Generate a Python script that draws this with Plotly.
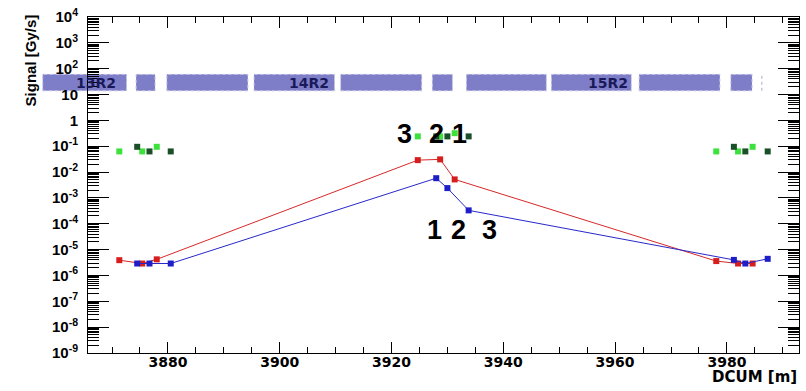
import numpy as np
import plotly.graph_objects as go

# ---------------- data ----------------
red_x = [3871.3, 3875.4, 3878.0, 3924.7, 3928.7, 3931.3, 3978.1, 3982.0, 3984.6]
red_y = [3.9e-6, 2.9e-6, 4.2e-6, 0.029, 0.031, 0.0052, 3.6e-6, 2.9e-6, 2.9e-6]
blue_x = [3874.5, 3876.7, 3880.5, 3928.0, 3930.0, 3933.8, 3981.25, 3983.3, 3987.3]
blue_y = [2.9e-6, 2.9e-6, 2.9e-6, 0.0058, 0.0024, 3.3e-4, 4.0e-6, 2.9e-6, 4.4e-6]
lgreen_x = red_x
lgreen_y = [0.063, 0.063, 0.095, 0.24, 0.24, 0.32, 0.063, 0.063, 0.095]
dgreen_x = blue_x
dgreen_y = [0.095, 0.063, 0.063, 0.24, 0.24, 0.24, 0.095, 0.063, 0.063]

# magnet band segments (DCUM start, end)
band_start = [3857.6, 3874.3, 3879.8, 3895.4, 3910.9, 3927.3, 3933.4, 3948.6, 3964.3, 3980.7]
band_end = [3872.6, 3877.7, 3894.3, 3909.8, 3925.4, 3930.9, 3947.7, 3962.9, 3978.75, 3984.5]
band_low, band_high = 13.9, 60.5
band_marker_x = [3986.25]
band_labels = ["13R2", "14R2", "15R2"]
band_label_x = [3867.1, 3905.2, 3958.75]
band_label_y = 27.4

# numbered labels
top_nums = ["3", "2", "1"]
top_nums_x = [3922.3, 3928.0, 3932.1]
top_nums_y = 0.289
bot_nums = ["1", "2", "3"]
bot_nums_x = [3927.7, 3932.0, 3937.5]
bot_nums_y = 5.85e-5

y_tickvals = [10.0 ** e for e in range(-9, 5)]
y_ticktext = ["10<sup>-9</sup>", "10<sup>-8</sup>", "10<sup>-7</sup>", "10<sup>-6</sup>",
              "10<sup>-5</sup>", "10<sup>-4</sup>", "10<sup>-3</sup>", "10<sup>-2</sup>",
              "10<sup>-1</sup>", "1", "10", "10<sup>2</sup>", "10<sup>3</sup>", "10<sup>4</sup>"]

X_RANGE = [3865.7, 3992.9]
Y_RANGE = [-9, 4]

def xp(v):
    return (v - X_RANGE[0]) / (X_RANGE[1] - X_RANGE[0])

def yp(v):
    return (np.log10(v) - Y_RANGE[0]) / (Y_RANGE[1] - Y_RANGE[0])

fig = go.Figure()

fig.add_trace(go.Scatter(x=red_x, y=red_y, mode="lines+markers",
                         line=dict(color="rgb(215,40,40)", width=1),
                         marker=dict(symbol="square", size=6, color="rgb(215,30,30)"),
                         showlegend=False))
fig.add_trace(go.Scatter(x=blue_x, y=blue_y, mode="lines+markers",
                         line=dict(color="rgb(40,40,200)", width=1),
                         marker=dict(symbol="square", size=6, color="rgb(30,30,200)"),
                         showlegend=False))
fig.add_trace(go.Scatter(x=lgreen_x, y=lgreen_y, mode="markers",
                         marker=dict(symbol="square", size=6, color="rgb(60,225,60)"),
                         showlegend=False))
fig.add_trace(go.Scatter(x=dgreen_x, y=dgreen_y, mode="markers",
                         marker=dict(symbol="square", size=6, color="rgb(25,80,40)"),
                         showlegend=False))

shapes = []
for s, e in zip(band_start, band_end):
    shapes.append(dict(type="rect", xref="paper", yref="paper",
                       x0=xp(s), x1=xp(e), y0=yp(band_low), y1=yp(band_high),
                       fillcolor="rgb(126,126,200)",
                       line=dict(color="rgb(200,200,230)", width=1, dash="dot"),
                       layer="below"))
for m in band_marker_x:
    shapes.append(dict(type="line", xref="paper", yref="paper",
                       x0=xp(m), x1=xp(m), y0=yp(band_low), y1=yp(band_high),
                       line=dict(color="rgb(170,170,210)", width=1, dash="dot")))

annotations = []
for t, x in zip(band_labels, band_label_x):
    annotations.append(dict(x=x, y=np.log10(band_label_y), xref="x", yref="y", text=t,
                            showarrow=False, xanchor="center", yanchor="middle",
                            font=dict(family="DejaVu Sans", size=14, color="rgb(25,25,90)",
                                      weight="bold")))
for t, x in zip(top_nums, top_nums_x):
    annotations.append(dict(x=x, y=np.log10(top_nums_y), xref="x", yref="y", text=t,
                            showarrow=False, xanchor="center", yanchor="middle",
                            font=dict(family="Liberation Sans", size=27, color="black",
                                      weight="bold")))
for t, x in zip(bot_nums, bot_nums_x):
    annotations.append(dict(x=x, y=np.log10(bot_nums_y), xref="x", yref="y", text=t,
                            showarrow=False, xanchor="center", yanchor="middle",
                            font=dict(family="Liberation Sans", size=27, color="black",
                                      weight="bold")))
annotations.append(dict(x=-0.0815, y=0.871, xref="paper", yref="paper",
                        text="Signal [Gy/s]", textangle=-90, showarrow=False,
                        xanchor="center", yanchor="middle",
                        font=dict(family="Liberation Sans", size=15, color="black",
                                  weight="bold")))
annotations.append(dict(x=1.0, y=-0.0706, xref="paper", yref="paper",
                        text="DCUM [m]", showarrow=False,
                        xanchor="right", yanchor="middle",
                        font=dict(family="DejaVu Sans", size=15, color="black",
                                  weight="bold")))

fig.update_layout(
    width=806, height=391,
    margin=dict(l=88, r=6, t=13, b=38),
    paper_bgcolor="white", plot_bgcolor="white",
    shapes=shapes, annotations=annotations,
    showlegend=False,
    xaxis=dict(range=X_RANGE, showgrid=False, zeroline=False,
               showline=True, linecolor="black", linewidth=1, mirror="allticks",
               ticks="inside", ticklen=11, tickcolor="black", dtick=20, tick0=3880,
               ticklabelstandoff=-4,
               tickfont=dict(family="DejaVu Sans", size=14, color="black", weight="bold"),
               minor=dict(ticks="inside", ticklen=6, dtick=5, tickcolor="black",
                          showgrid=False)),
    yaxis=dict(type="log", range=Y_RANGE, showgrid=False, zeroline=False,
               showline=True, linecolor="black", linewidth=1, mirror="allticks",
               ticks="inside", ticklen=21, tickcolor="black",
               tickmode="array", tickvals=y_tickvals, ticktext=y_ticktext,
               ticklabelstandoff=6,
               tickfont=dict(family="Liberation Sans", size=15, color="black", weight="bold"),
               minor=dict(ticks="inside", ticklen=11, dtick="D1", tickcolor="black",
                          showgrid=False)),
)

fig.write_html("out.html", config={"displayModeBar": False},
               post_script="document.body.style.margin='0';document.body.style.padding='0';")
